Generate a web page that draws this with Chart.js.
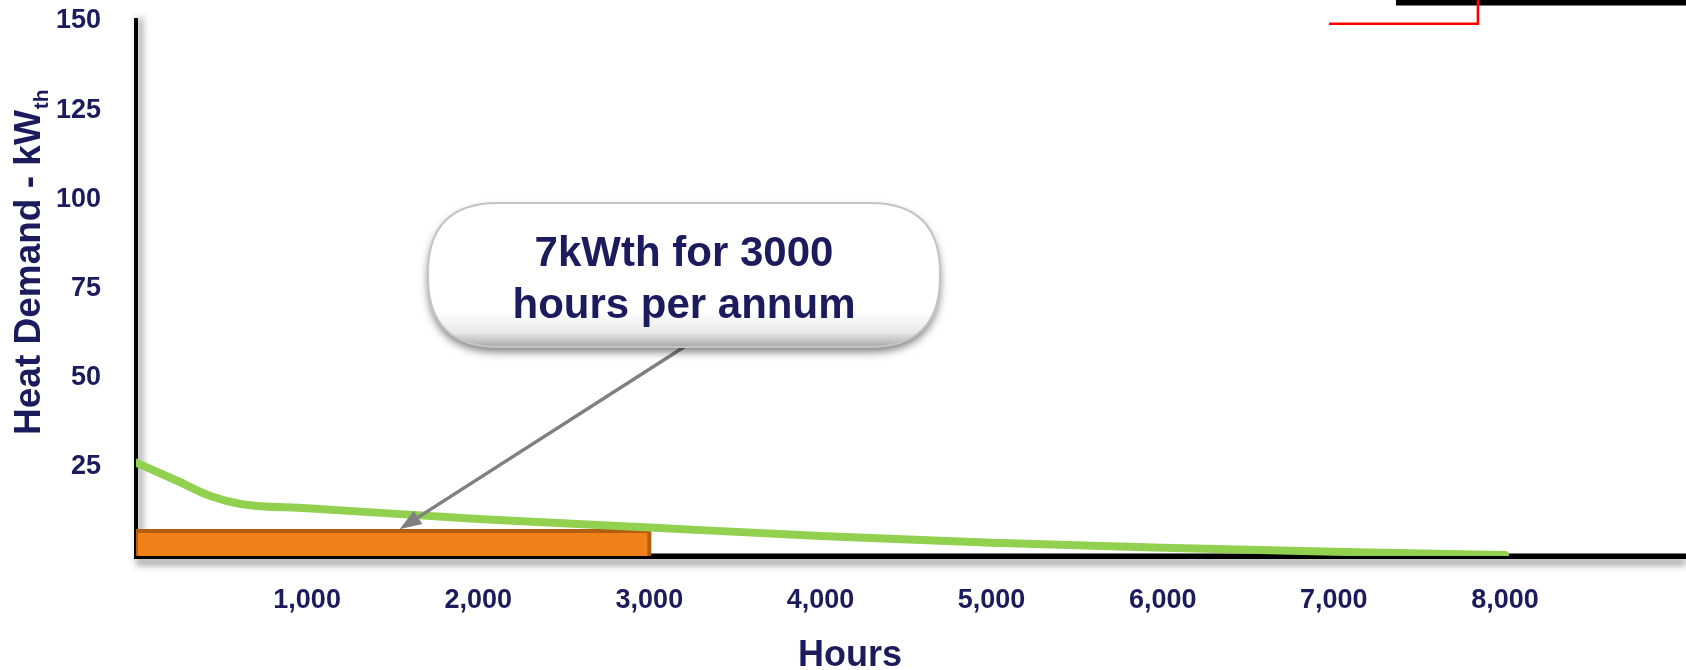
<!DOCTYPE html>
<html>
<head>
<meta charset="utf-8">
<script src="https://cdn.jsdelivr.net/npm/chart.js@4.4.1/dist/chart.umd.min.js"></script>
<style>
  html, body { margin: 0; padding: 0; background: #ffffff; }
  canvas { display: block; }
</style>
</head>
<body>
<canvas id="heat" width="1686" height="670"></canvas>
<script>
// Annual heat demand duration curve (kWth against hours of the year)
const hours      = [0, 240, 430, 620, 1000, 2000, 3000, 4000, 5000, 6000, 7000, 8000];
const heatDemand = [26.2, 21.1, 16.9, 14.5, 13.4, 10.4, 8.0, 5.6, 3.7, 2.3, 1.2, 0.3];

// Base load block: 7 kWth running for 3000 hours
const baseloadHours = 3000;
const baseloadKw = 7;

// Other capacity traces, largely above the plotted range
const redHours   = [6972, 7842, 7842];
const redKw      = [149.2, 149.2, 162];
const blackHours = [7363, 9400];
const blackKw    = [155.2, 155.2];

// Axis ticks
const xTickValues = [1000, 2000, 3000, 4000, 5000, 6000, 7000, 8000];
const xTickLabels = ['1,000', '2,000', '3,000', '4,000', '5,000', '6,000', '7,000', '8,000'];
const yTickValues = [25, 50, 75, 100, 125, 150];
const yTickLabels = ['25', '50', '75', '100', '125', '150'];

// Callout text and the point it refers to
const calloutLines = ['7kWth for 3000', 'hours per annum'];
const calloutTarget = { x: 1540, y: 7.5 };

const NAVY = '#1b1b5e';
const FONT = "'Liberation Sans', Arial, Helvetica, sans-serif";

const toPoints = (xs, ys) => xs.map((x, i) => ({ x: x, y: ys[i] }));

// Soft shadows under the two axis lines
const axisShadow = {
  id: 'axisShadow',
  beforeDraw(chart) {
    const { ctx, chartArea: a } = chart;
    ctx.save();
    ctx.strokeStyle = '#000';
    ctx.shadowColor = 'rgba(0,0,0,0.5)';
    ctx.shadowBlur = 7;
    ctx.lineWidth = 5;
    ctx.shadowOffsetY = 6;
    ctx.beginPath();
    ctx.moveTo(a.left, a.bottom);
    ctx.lineTo(a.right, a.bottom);
    ctx.stroke();
    ctx.shadowOffsetY = 0;
    ctx.shadowOffsetX = 4;
    ctx.lineWidth = 4;
    ctx.beginPath();
    ctx.moveTo(a.left, a.top - 3);
    ctx.lineTo(a.left, a.bottom);
    ctx.stroke();
    ctx.restore();
  }
};

// Axis titles (the y title carries a subscript)
const axisTitles = {
  id: 'axisTitles',
  afterDraw(chart) {
    const { ctx } = chart;
    ctx.save();
    ctx.fillStyle = NAVY;
    ctx.textBaseline = 'alphabetic';
    ctx.textAlign = 'left';
    ctx.translate(40, 435);
    ctx.rotate(-Math.PI / 2);
    ctx.font = 'bold 37px ' + FONT;
    const main = 'Heat Demand - kW';
    ctx.fillText(main, 0, 0);
    const w = ctx.measureText(main).width;
    ctx.font = 'bold 21px ' + FONT;
    ctx.fillText('th', w + 1, 8);
    ctx.restore();

    ctx.save();
    ctx.fillStyle = NAVY;
    ctx.font = 'bold 36px ' + FONT;
    ctx.textAlign = 'center';
    ctx.textBaseline = 'alphabetic';
    ctx.fillText('Hours', 850, 666);
    ctx.restore();
  }
};

// Rounded callout box with a pointer arrow to the base load block
const callout = {
  id: 'callout',
  afterDatasetsDraw(chart) {
    const { ctx, scales } = chart;
    const box = { left: 428, top: 203, width: 512, height: 144, r: 70 };
    const sx = box.left + box.width / 2, sy = box.top + box.height;
    const tx = scales.x.getPixelForValue(calloutTarget.x);
    const ty = scales.y.getPixelForValue(calloutTarget.y);

    // arrow
    const ang = Math.atan2(ty - sy, tx - sx);
    const headLen = 22, headHalf = 8;
    const bx = tx - headLen * Math.cos(ang), by = ty - headLen * Math.sin(ang);
    ctx.save();
    ctx.strokeStyle = '#808080';
    ctx.fillStyle = '#808080';
    ctx.lineWidth = 3.5;
    ctx.beginPath();
    ctx.moveTo(sx, sy);
    ctx.lineTo(bx, by);
    ctx.stroke();
    ctx.beginPath();
    ctx.moveTo(tx, ty);
    ctx.lineTo(bx + headHalf * Math.sin(ang), by - headHalf * Math.cos(ang));
    ctx.lineTo(bx - headHalf * Math.sin(ang), by + headHalf * Math.cos(ang));
    ctx.closePath();
    ctx.fill();
    ctx.restore();

    // box
    const path = () => {
      const { left: x, top: y, width: w, height: h, r } = box;
      ctx.beginPath();
      ctx.moveTo(x + r, y);
      ctx.lineTo(x + w - r, y);
      ctx.quadraticCurveTo(x + w, y, x + w, y + r);
      ctx.lineTo(x + w, y + h - r);
      ctx.quadraticCurveTo(x + w, y + h, x + w - r, y + h);
      ctx.lineTo(x + r, y + h);
      ctx.quadraticCurveTo(x, y + h, x, y + h - r);
      ctx.lineTo(x, y + r);
      ctx.quadraticCurveTo(x, y, x + r, y);
      ctx.closePath();
    };
    ctx.save();
    const g = ctx.createLinearGradient(0, box.top, 0, box.top + box.height);
    g.addColorStop(0, '#ffffff');
    g.addColorStop(0.75, '#ffffff');
    g.addColorStop(0.9, '#e8e8e8');
    g.addColorStop(1, '#a8a8a8');
    ctx.shadowColor = 'rgba(0,0,0,0.5)';
    ctx.shadowBlur = 9;
    ctx.shadowOffsetY = 5;
    path();
    ctx.fillStyle = g;
    ctx.fill();
    ctx.shadowColor = 'transparent';
    ctx.strokeStyle = '#c4c4c4';
    ctx.lineWidth = 2;
    path();
    ctx.stroke();

    ctx.fillStyle = NAVY;
    ctx.font = 'bold 42px ' + FONT;
    ctx.textAlign = 'center';
    ctx.textBaseline = 'alphabetic';
    ctx.fillText(calloutLines[0], sx, 266);
    ctx.fillText(calloutLines[1], sx, 318);
    ctx.restore();
  }
};

new Chart(document.getElementById('heat'), {
  type: 'line',
  data: {
    datasets: [
      {
        label: 'Heat demand',
        data: toPoints(hours, heatDemand),
        borderColor: '#92d050',
        borderWidth: 8,
        borderCapStyle: 'round',
        borderJoinStyle: 'round',
        cubicInterpolationMode: 'monotone',
        pointRadius: 0,
        fill: false,
        order: 0
      },
      {
        label: 'Base load',
        data: toPoints([0, 0, baseloadHours, baseloadHours], [0, baseloadKw, baseloadKw, 0]),
        borderColor: '#b35d10',
        backgroundColor: '#f08018',
        borderWidth: 4,
        borderJoinStyle: 'miter',
        pointRadius: 0,
        tension: 0,
        fill: 'origin',
        order: 1
      },
      {
        label: 'Peak',
        data: toPoints(redHours, redKw),
        borderColor: '#ff0000',
        borderWidth: 2.5,
        borderJoinStyle: 'miter',
        pointRadius: 0,
        tension: 0,
        fill: false,
        clip: false,
        order: 2
      },
      {
        label: 'Capacity',
        data: toPoints(blackHours, blackKw),
        borderColor: '#000000',
        borderWidth: 6,
        pointRadius: 0,
        tension: 0,
        fill: false,
        clip: false,
        order: 3
      }
    ]
  },
  options: {
    responsive: false,
    animation: false,
    devicePixelRatio: 1,
    layout: { padding: { top: 21, right: 0, bottom: 0, left: 0 } },
    plugins: { legend: { display: false }, tooltip: { enabled: false } },
    scales: {
      x: {
        type: 'linear',
        min: 0,
        max: 9058,
        afterBuildTicks: s => { s.ticks = xTickValues.map(v => ({ value: v })); },
        afterFit: s => { s.height = 114; },
        grid: { display: false, drawTicks: false },
        border: { display: true, color: '#000000', width: 5 },
        ticks: {
          autoSkip: false,
          maxRotation: 0,
          padding: 28,
          color: NAVY,
          font: { family: FONT, size: 27, weight: 'bold' },
          callback: v => xTickLabels[xTickValues.indexOf(v)]
        }
      },
      y: {
        type: 'linear',
        min: 0,
        max: 150,
        afterBuildTicks: s => { s.ticks = yTickValues.map(v => ({ value: v })); },
        afterFit: s => { s.width = 136; },
        grid: {
          display: true,
          drawOnChartArea: false,
          drawTicks: true,
          tickLength: 35,
          tickColor: 'rgba(0,0,0,0)'
        },
        border: { display: true, color: '#000000', width: 4 },
        ticks: {
          padding: 0,
          color: NAVY,
          font: { family: FONT, size: 27, weight: 'bold' },
          callback: v => yTickLabels[yTickValues.indexOf(v)]
        }
      }
    }
  },
  plugins: [axisShadow, callout, axisTitles]
});
</script>
</body>
</html>
